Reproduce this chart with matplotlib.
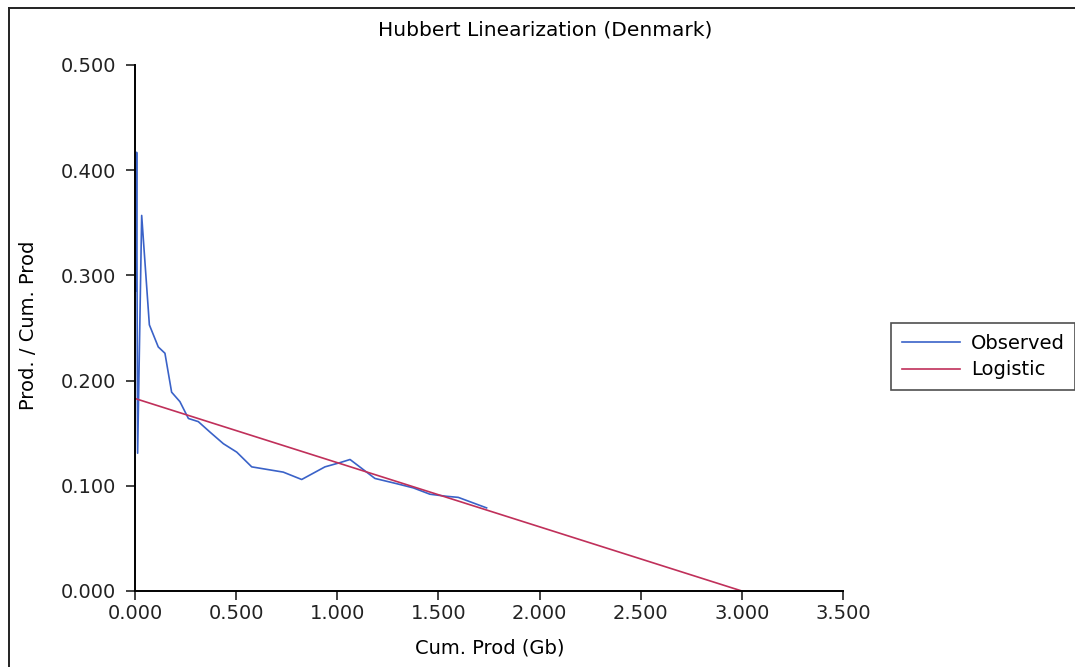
import matplotlib
matplotlib.use('Agg')
import matplotlib.pyplot as plt
from matplotlib.lines import Line2D

# Observed: cumulative production (Gb) vs prod / cum. prod
cum_obs = [0.005, 0.008, 0.013, 0.033, 0.071, 0.115, 0.148, 0.181, 0.222, 0.264,
           0.313, 0.371, 0.437, 0.503, 0.577, 0.733, 0.824, 0.939, 1.013, 1.063,
           1.186, 1.294, 1.376, 1.458, 1.541, 1.598, 1.738]
ratio_obs = [0.285, 0.417, 0.131, 0.357, 0.253, 0.232, 0.226, 0.189, 0.180, 0.164,
             0.161, 0.151, 0.140, 0.132, 0.118, 0.113, 0.106, 0.118, 0.122, 0.125,
             0.107, 0.102, 0.098, 0.092, 0.090, 0.089, 0.079]

# Logistic fit line
cum_fit = [0.0, 3.0]
ratio_fit = [0.183, 0.0]

xticks = [0.0, 0.5, 1.0, 1.5, 2.0, 2.5, 3.0, 3.5]
yticks = [0.0, 0.1, 0.2, 0.3, 0.4, 0.5]

W, H = 1075, 667
fs = 14
fig = plt.figure(figsize=(W / 100, H / 100), dpi=100)
ax = fig.add_axes([135 / W, 76 / H, 708 / W, 526 / H])

ax.plot(cum_obs, ratio_obs, color='#3a62c8', lw=1.2, label='Observed')
ax.plot(cum_fit, ratio_fit, color='#c0305a', lw=1.2, label='Logistic')

ax.set_xlim(0, 3.5)
ax.set_ylim(0, 0.5)
ax.set_xticks(xticks)
ax.set_yticks(yticks)
ax.set_xticklabels(['%.3f' % t for t in xticks])
ax.set_yticklabels(['%.3f' % t for t in yticks])
ax.tick_params(labelsize=fs, length=6.5, width=1.2, colors='#222222')
ax.tick_params(axis='x', pad=3)
ax.tick_params(axis='y', pad=7)
for s in ['top', 'right']:
    ax.spines[s].set_visible(False)
for s in ['left', 'bottom']:
    ax.spines[s].set_linewidth(1.4)

fig.text(490 / W, 1 - 648 / H, 'Cum. Prod (Gb)', fontsize=fs, ha='center', va='center')
fig.text(29 / W, 1 - 325 / H, 'Prod. / Cum. Prod', fontsize=fs, ha='center',
         va='center', rotation=90)
fig.text(545 / W, 1 - 30 / H, 'Hubbert Linearization (Denmark)', fontsize=14.5,
         ha='center', va='center')

leg = ax.legend(loc='upper left', bbox_to_anchor=(891 / W, 1 - 323 / H),
                bbox_transform=fig.transFigure, fontsize=fs, frameon=True,
                fancybox=False, edgecolor='#222222', handlelength=3.0,
                borderpad=0.55, borderaxespad=0, labelspacing=0.4,
                handletextpad=0.55)
leg.get_frame().set_linewidth(1.2)

# outer border (left and top)
fig.add_artist(Line2D([9 / W, 9 / W], [0, 1 - 8 / H], color='#222222', lw=1.4))
fig.add_artist(Line2D([9 / W, 1], [1 - 8 / H, 1 - 8 / H], color='#222222', lw=1.4))

fig.savefig('out.png', dpi=100)
